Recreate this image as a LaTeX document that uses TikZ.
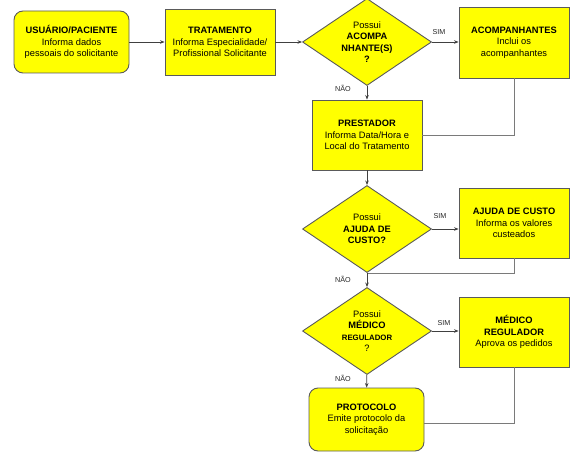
\documentclass[tikz,border=0pt]{standalone}
\usepackage{fontspec}
\setmainfont{Liberation Sans}
\usetikzlibrary{shapes.geometric,arrows.meta}
\definecolor{boxyellow}{HTML}{FFFF00}
\definecolor{edgegray}{HTML}{5A5A5A}
\definecolor{linegray}{HTML}{7A7A7A}
\tikzset{
  base/.style={draw=edgegray, line width=0.9pt, fill=boxyellow, inner sep=0pt, align=center,
    font=\fontsize{9.3}{11.5}\selectfont},
  procbox/.style={base, rectangle, minimum width=110pt, minimum height=70pt},
  termbox/.style={base, rectangle, rounded corners=9pt, minimum width=115pt, minimum height=63pt},
  dia/.style={base, diamond, minimum width=129pt, minimum height=87pt},
  diatext/.style={align=center, inner sep=0pt, font=\fontsize{9.3}{11.5}\selectfont},
  flow/.style={draw=black!75, line width=0.7pt, -{Stealth[length=4.5pt,width=3.5pt]}},
  back/.style={draw=linegray, line width=0.9pt},
  lbl/.style={font=\fontsize{7.2}{8}\selectfont, inner sep=0pt, text=black!85}
}
\begin{document}
\begin{tikzpicture}[x=1pt,y=-1pt]
\path[use as bounding box] (0,0) rectangle (580,454);

\node[termbox, minimum height=62pt] (u) at (71.5,42) {\textbf{USUÁRIO/PACIENTE}\\Informa dados\\pessoais do solicitante};
\node[procbox, minimum height=66pt] (t) at (220,42) {\textbf{TRATAMENTO}\\Informa Especialidade/\\Profissional Solicitante};
\node[dia] (d1) at (367,42) {};
\node[diatext] (d1t) at (367,42) {Possui\\\textbf{ACOMPA}\\\textbf{NHANTE(S)}\\\textbf{?}};
\node[procbox, minimum height=71pt] (a) at (514,42.5) {\textbf{ACOMPANHANTES}\\Inclui os\\acompanhantes};
\node[procbox] (p) at (367,135) {\textbf{PRESTADOR}\\Informa Data/Hora e\\Local do Tratamento};
\node[dia] (d2) at (367,229) {};
\node[diatext] (d2t) at (367,229) {Possui\\\textbf{AJUDA DE}\\\textbf{CUSTO?}};
\node[procbox] (aj) at (514,223) {\textbf{AJUDA DE CUSTO}\\Informa os valores\\custeados};
\node[dia] (d3) at (367,331) {};
\node[diatext] (d3t) at (367,331) {Possui\\\textbf{MÉDICO}\\{\fontsize{7.8}{11.5}\selectfont\textbf{REGULADOR}}\\?};
\node[procbox] (m) at (514,332) {\textbf{MÉDICO}\\\textbf{REGULADOR}\\Aprova os pedidos};
\node[termbox] (pr) at (366.5,419.5) {\textbf{PROTOCOLO}\\Emite protocolo da\\solicitação};

\draw[flow] (u) -- (t);
\draw[flow] (t) -- (d1);
\draw[flow] (d1.east) -- (d1.east -| a.west);
\draw[flow] (d1) -- (p);
\draw[back] (a.south) |- (p.east);
\draw[flow] (p) -- (d2);
\draw[flow] (d2.east) -- (d2.east -| aj.west);
\draw[back] (aj.south) |- (d2.south);
\draw[flow] (d2.south) -- (d3.north);
\draw[flow] (d3.east) -- (d3.east -| m.west);
\draw[back] (m.south) |- ([yshift=-4pt]pr.east);
\draw[flow] (d3) -- (pr);

\node[lbl] (s1) at (439,32) {SIM};
\node[lbl] (n1) at (343,88) {NÃO};
\node[lbl] (s2) at (440,216) {SIM};
\node[lbl] (n2) at (343,279) {NÃO};
\node[lbl] (s3) at (444,323) {SIM};
\node[lbl] (n3) at (343,378) {NÃO};
\end{tikzpicture}
\end{document}
